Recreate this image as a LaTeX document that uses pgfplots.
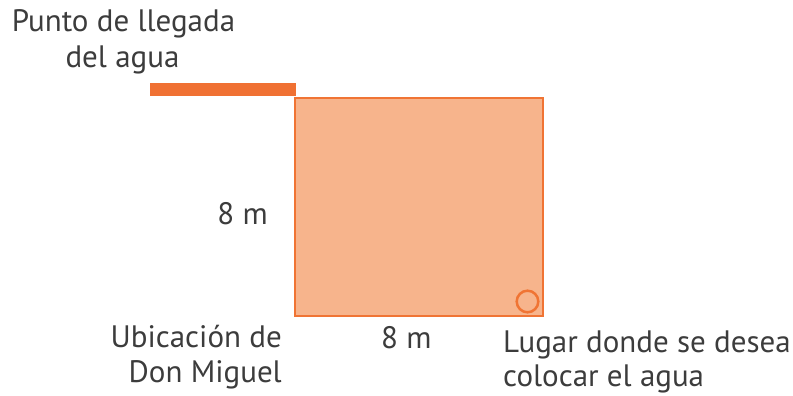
\documentclass[border=0pt]{standalone}
\usepackage{pgfplots}
\pgfplotsset{compat=1.18}
\usepackage{fontspec}
\setmainfont{PT Sans}
\definecolor{sqfill}{HTML}{F7B48C}
\definecolor{sqdraw}{HTML}{F07434}
\definecolor{bar}{HTML}{F07133}
\definecolor{txt}{HTML}{3C3C3C}
\tikzset{lbl/.style={font=\fontsize{31}{36}\selectfont, text=txt, inner sep=0pt}}
\begin{document}
\begin{tikzpicture}
\begin{axis}[
  width=793pt, height=396pt, scale only axis,
  xmin=0, xmax=793, ymin=0, ymax=396,
  hide axis, clip=false,
]
% square field
\addplot[fill=sqfill, draw=sqdraw, line width=2.8pt, line join=miter]
  coordinates {(295,80) (543,80) (543,298) (295,298) (295,80)} -- cycle;
% arrival point of water (thick bar)
\addplot[draw=bar, line width=13pt, line cap=butt]
  coordinates {(150,306.5) (296,306.5)};
% target place (circle)
\addplot[only marks, mark=o, mark size=10.8pt, mark options={draw=sqdraw, line width=2.5pt}]
  coordinates {(527.5,94.5)};
\node[lbl, anchor=base] at (axis cs:123.5,364) {Punto de llegada};
\node[lbl, anchor=base] at (axis cs:122.5,328) {del agua};
\node[lbl, anchor=base east] at (axis cs:268,171) {8 m};
\node[lbl, anchor=base east] at (axis cs:282,48) {Ubicación de};
\node[lbl, anchor=base east] at (axis cs:282,13) {Don Miguel};
\node[lbl, anchor=base west] at (axis cs:381,47) {8 m};
\node[lbl, anchor=base west] at (axis cs:503,43) {Lugar donde se desea};
\node[lbl, anchor=base west] at (axis cs:503,9) {colocar el agua};
\end{axis}
\pgfresetboundingbox
\useasboundingbox (0,0) rectangle (793pt,396pt);
\end{tikzpicture}
\end{document}
